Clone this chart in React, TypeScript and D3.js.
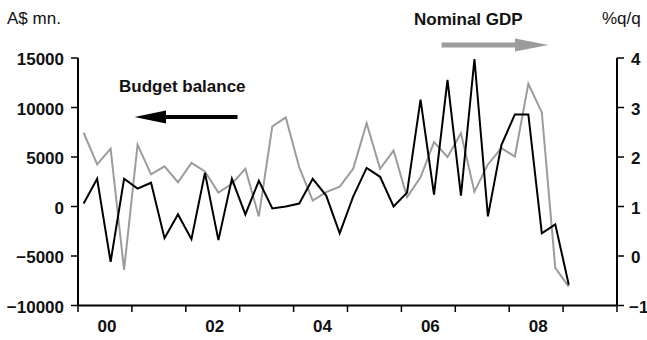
import React from "react";
import * as d3 from "d3";

// Quarterly observations, 2000 Q1 – 2009 Q1
const quarters: number[] = d3.range(37);

// Federal budget balance, A$ mn (left axis)
const budgetBalance: number[] = [
  300, 2800, -5600, 2800, 1800, 2400, -3200, -800, -3300,
  3400, -3400, 2800, -800, 2600, -200, 0, 300, 2800,
  1100, -2700, 1000, 3900, 3000, 0, 1400, 10800, 1200,
  12800, 1100, 14900, -1000, 6200, 9300, 9300, -2700, -1800, -7900,
];

// Nominal GDP growth, % q/q (right axis)
const nominalGDP: number[] = [
  2.49, 1.85, 2.17, -0.28, 2.25, 1.65, 1.81, 1.49, 1.88,
  1.71, 1.28, 1.46, 1.76, 0.8, 2.62, 2.8, 1.79, 1.12,
  1.29, 1.4, 1.76, 2.68, 1.76, 2.13, 1.19, 1.59, 2.3,
  2.0, 2.48, 1.3, 1.85, 2.18, 2.01, 3.48, 2.9, -0.24, -0.62,
];

const leftTicks: number[] = [-10000, -5000, 0, 5000, 10000, 15000];
const rightTicks: number[] = [-1, 0, 1, 2, 3, 4];
const yearTicks: number[] = d3.range(11);
const yearLabels: string[] = ["00", "02", "04", "06", "08"];

const W = 647;
const H = 340;
const plot = { left: 78, right: 617, top: 58, bottom: 305.5 };
const FONT = "'Liberation Sans', Arial, Helvetica, sans-serif";
const GREY = "#9c9c9c";

export default function App() {
  // x in years since the start of 2000
  const x = d3.scaleLinear().domain([0, 10]).range([plot.left, plot.right]);
  const xq = (i: number) => x((i + 0.42) / 4);
  const yL = d3.scaleLinear().domain([-10000, 15000]).range([plot.bottom, plot.top]);
  const yR = d3.scaleLinear().domain([-1, 4]).range([plot.bottom, plot.top]);

  const budgetLine = d3
    .line<number>()
    .x((i) => xq(i))
    .y((i) => yL(budgetBalance[i]));
  const gdpLine = d3
    .line<number>()
    .x((i) => xq(i))
    .y((i) => yR(nominalGDP[i]));

  const fmt = d3.format("d");
  const tick = 7;

  return (
    <svg
      width={W}
      height={H}
      style={{ position: "fixed", left: 0, top: 0, background: "#fff" }}
      fontFamily={FONT}
    >
      <rect x={0} y={0} width={W} height={H} fill="#fff" />

      {/* unit captions */}
      <text x={7} y={24} fontSize={17} fill="#111">A$ mn.</text>
      <text x={602} y={24} fontSize={17} fill="#111">%q/q</text>

      {/* series lines */}
      <path d={gdpLine(quarters) ?? ""} fill="none" stroke={GREY} strokeWidth={2} />
      <path d={budgetLine(quarters) ?? ""} fill="none" stroke="#000" strokeWidth={2} />

      {/* left axis */}
      <line x1={plot.left} x2={plot.left} y1={plot.top} y2={plot.bottom} stroke="#000" strokeWidth={2} />
      {leftTicks.map((v) => (
        <g key={`l${v}`}>
          <line x1={plot.left - tick} x2={plot.left} y1={yL(v)} y2={yL(v)} stroke="#000" strokeWidth={1.5} />
          <text
            x={plot.left - 14}
            y={yL(v) + 7}
            fontSize={17}
            fontWeight="bold"
            textAnchor="end"
            fill="#111"
          >
            {fmt(v)}
          </text>
        </g>
      ))}

      {/* right axis */}
      <line x1={plot.right} x2={plot.right} y1={plot.top} y2={plot.bottom} stroke="#000" strokeWidth={2} />
      {rightTicks.map((v) => (
        <g key={`r${v}`}>
          <line x1={plot.right} x2={plot.right + tick} y1={yR(v)} y2={yR(v)} stroke="#000" strokeWidth={1.5} />
          <text x={v < 0 ? plot.right + 12 : plot.right + 14} y={yR(v) + 7} fontSize={17} fontWeight="bold" fill="#111">
            {fmt(v)}
          </text>
        </g>
      ))}

      {/* bottom axis */}
      <line x1={plot.left} x2={plot.right} y1={plot.bottom} y2={plot.bottom} stroke="#000" strokeWidth={2} />
      {yearTicks.map((t) => (
        <line key={`t${t}`} x1={x(t)} x2={x(t)} y1={plot.bottom} y2={plot.bottom + 6.5} stroke="#000" strokeWidth={1.5} />
      ))}
      {yearLabels.map((lab, k) => (
        <text
          key={lab}
          x={x(2 * k + 0.5) + 2}
          y={332}
          fontSize={17}
          fontWeight="bold"
          textAnchor="middle"
          fill="#111"
        >
          {lab}
        </text>
      ))}

      {/* legend: budget balance, pointing to the left axis */}
      <text x={119} y={92} fontSize={17} fontWeight="bold" fill="#111">Budget balance</text>
      <line x1={160} x2={237.5} y1={117} y2={117} stroke="#000" strokeWidth={4} />
      <path d="M134.5,117 L166,110.5 L166,123.5 Z" fill="#000" />

      {/* legend: nominal GDP, pointing to the right axis */}
      <text x={414} y={25} fontSize={17} fontWeight="bold" fill="#111">Nominal GDP</text>
      <line x1={441.5} x2={520} y1={45} y2={45} stroke={GREY} strokeWidth={5} />
      <path d="M548.5,45 L515,38.5 L515,51.5 Z" fill={GREY} />
    </svg>
  );
}
